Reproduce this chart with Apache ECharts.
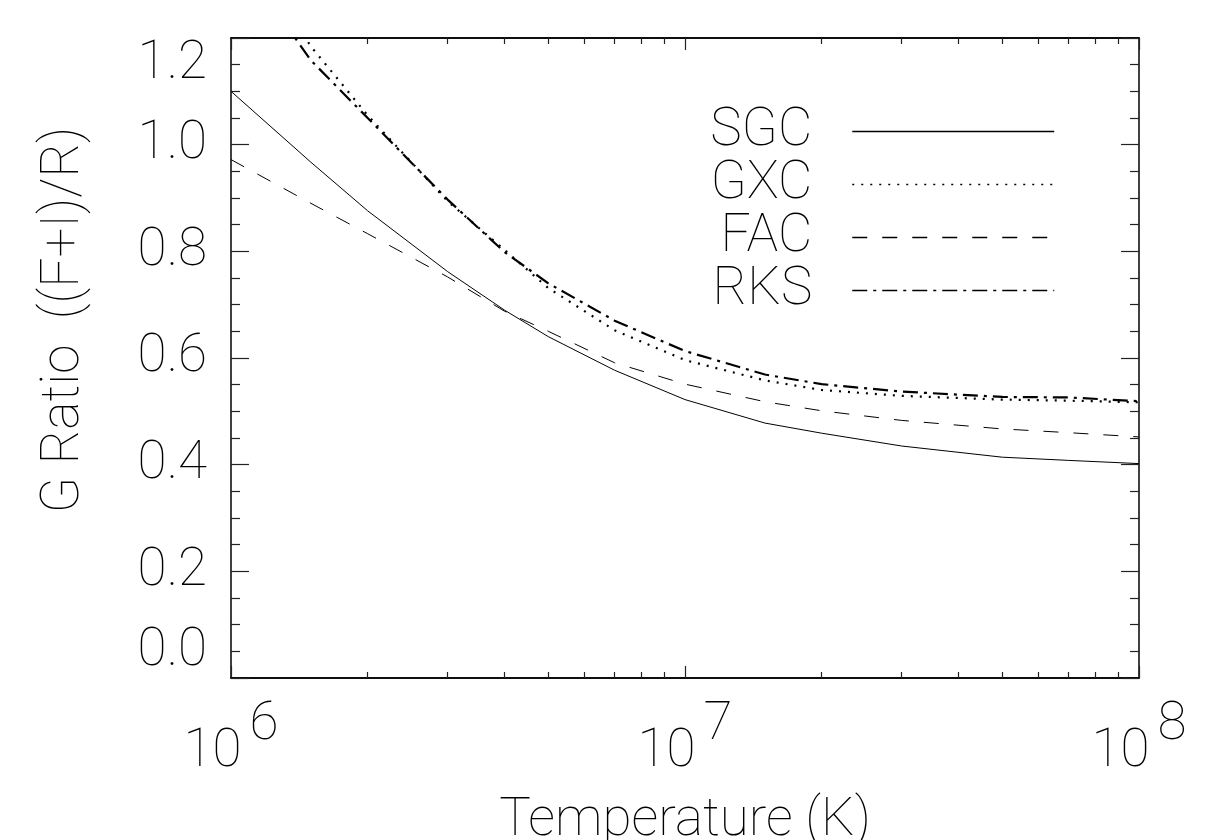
<!DOCTYPE html>
<html lang="en">
<head>
    <meta charset="UTF-8">
    <title>G Ratio vs Temperature</title>
    <script src="https://cdn.jsdelivr.net/npm/echarts@6/dist/echarts.min.js"></script>
    <style>
        html, body { margin: 0; padding: 0; background: #ffffff; }
        #main { width: 1209px; height: 840px; }
    </style>
</head>
<body>
<div id="main"></div>
<script type="text/javascript">
    // temperature grid (K)
    var temps = [1e6, 1.5e6, 2e6, 3e6, 4e6, 5e6, 7e6, 1e7, 1.5e7, 2e7, 3e7, 5e7, 7e7, 1e8];

    // G ratio for each calculation
    var sgc = [1.100, 0.967, 0.876, 0.762, 0.690, 0.640, 0.577, 0.522, 0.478, 0.459, 0.435, 0.414, 0.408, 0.402];
    var gxc = [1.420, 1.184, 1.055, 0.894, 0.803, 0.731, 0.652, 0.596, 0.558, 0.540, 0.529, 0.522, 0.520, 0.517];
    var fac = [0.972, 0.890, 0.833, 0.752, 0.688, 0.650, 0.591, 0.551, 0.518, 0.501, 0.483, 0.467, 0.460, 0.452];
    var rks = [1.370, 1.158, 1.050, 0.897, 0.799, 0.740, 0.670, 0.613, 0.569, 0.551, 0.537, 0.527, 0.526, 0.519];

    var names = ['SGC', 'GXC', 'FAC', 'RKS'];

    // tick positions on the log axis
    var majorT = [1e6, 1e7, 1e8];
    var majorExp = ['6', '7', '8'];
    var minorT = [2e6, 3e6, 4e6, 5e6, 6e6, 7e6, 8e6, 9e6, 2e7, 3e7, 4e7, 5e7, 6e7, 7e7, 8e7, 9e7];

    function pairs(ys) {
        return temps.map(function (t, i) { return [t, ys[i]]; });
    }

    var FONT = 'Roboto';
    var chart = echarts.init(document.getElementById('main'));

    function xAx(pos, ticks, len, withLabel) {
        var ax = {
            type: 'log',
            logBase: 10,
            min: 1e6,
            max: 1e8,
            position: pos,
            axisLine: { show: true, onZero: false, lineStyle: { color: '#000', width: 1.5 } },
            axisTick: { show: true, inside: true, length: len, customValues: ticks, lineStyle: { color: '#222', width: 1.2 } },
            axisLabel: { show: false },
            splitLine: { show: false },
            minorTick: { show: false }
        };
        if (withLabel) {
            ax.axisLabel = {
                show: true,
                customValues: majorT,
                margin: 49,
                formatter: function (v) {
                    var k = majorT.indexOf(v);
                    return '{b|10}{s|' + majorExp[k] + '}';
                },
                rich: {
                    b: { fontFamily: FONT, fontWeight: 100, fontSize: 53, color: '#000', lineHeight: 52, verticalAlign: 'bottom' },
                    s: { fontFamily: FONT, fontWeight: 100, fontSize: 53, color: '#000', lineHeight: 52, verticalAlign: 'bottom', padding: [0, 0, 27, 8] }
                }
            };
            ax.name = 'Temperature (K)';
            ax.nameLocation = 'middle';
            ax.nameGap = 117;
            ax.nameMoveOverlap = false;
            ax.nameTextStyle = { fontFamily: FONT, fontWeight: 100, fontSize: 53, color: '#000' };
        }
        return ax;
    }

    function yAx(pos, withLabel) {
        var ax = {
            type: 'value',
            min: 0,
            max: 1.2,
            interval: 0.2,
            position: pos,
            axisLine: { show: true, onZero: false, lineStyle: { color: '#000', width: 1.5 } },
            axisTick: { show: true, inside: true, length: 18, lineStyle: { color: '#222', width: 1.2 } },
            minorTick: { show: true, splitNumber: 4, length: 9, lineStyle: { color: '#222', width: 1.2 } },
            splitLine: { show: false },
            axisLabel: { show: false }
        };
        if (withLabel) {
            ax.axisLabel = {
                show: true,
                margin: 24,
                fontFamily: FONT,
                fontWeight: 100,
                fontSize: 53,
                color: '#000',
                verticalAlignMinLabel: 'bottom',
                verticalAlignMaxLabel: 'top',
                formatter: function (v) { return v.toFixed(1); }
            };
            ax.name = 'G Ratio  ((F+I)/R)';
            ax.nameLocation = 'middle';
            ax.nameGap = 140;
            ax.nameMoveOverlap = false;
            ax.nameTextStyle = { fontFamily: FONT, fontWeight: 100, fontSize: 53, color: '#000', padding: [0, 0, 0, 76] };
        }
        return ax;
    }

    var styles = [
        { color: '#000', width: 1, type: 'solid' },
        { color: '#000', width: 2.2, type: [2, 7] },
        { color: '#000', width: 1, type: [15, 15] },
        { color: '#000', width: 2.2, type: [15, 6, 3, 6] }
    ];
    var dataSets = [sgc, gxc, fac, rks];

    var option = {
        backgroundColor: '#ffffff',
        animation: false,
        grid: { left: 231, right: 70, top: 38, bottom: 162, containLabel: false, outerBoundsMode: 'none' },
        legend: {
            data: names,
            orient: 'vertical',
            align: 'right',
            right: 154,
            top: 105,
            padding: 0,
            itemWidth: 202,
            itemHeight: 14,
            itemGap: 0,
            itemStyle: { color: 'rgba(0,0,0,0)', borderWidth: 0 },
            lineStyle: { width: 1.5 },
            textStyle: { fontFamily: FONT, fontWeight: 100, fontSize: 53, color: '#000', padding: [0, 35, 0, 0] }
        },
        xAxis: [
            xAx('bottom', majorT, 12, true),
            xAx('bottom', minorT, 6, false),
            xAx('top', majorT, 12, false),
            xAx('top', minorT, 6, false)
        ],
        yAxis: [
            yAx('left', true),
            yAx('right', false)
        ],
        series: names.map(function (n, i) {
            return {
                name: n,
                type: 'line',
                xAxisIndex: 0,
                yAxisIndex: 0,
                data: pairs(dataSets[i]),
                symbol: 'none',
                showSymbol: false,
                clip: true,
                lineStyle: styles[i],
                itemStyle: { color: '#000' }
            };
        })
    };

    chart.setOption(option);
</script>
</body>
</html>
